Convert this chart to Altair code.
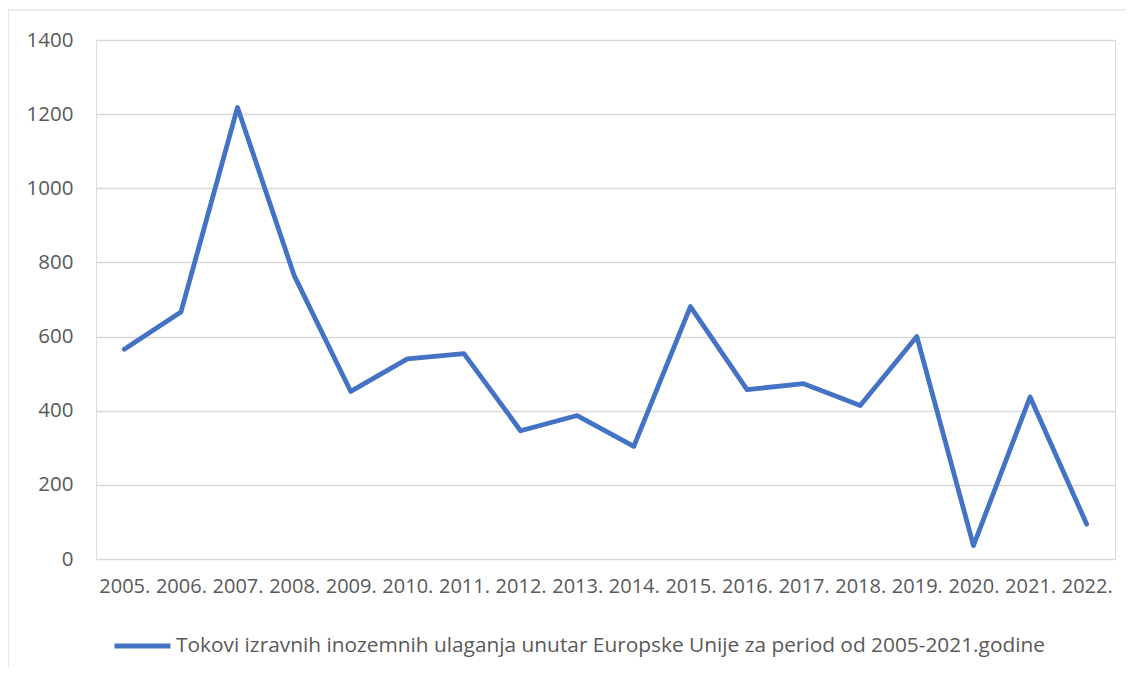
import altair as alt
import pandas as pd

years = ["2005.", "2006.", "2007.", "2008.", "2009.", "2010.", "2011.", "2012.", "2013.",
         "2014.", "2015.", "2016.", "2017.", "2018.", "2019.", "2020.", "2021.", "2022."]
values = [566, 666, 1218, 765, 452, 540, 554, 346, 387,
          304, 681, 457, 473, 414, 600, 36, 437, 94]
series_name = "Tokovi izravnih inozemnih ulaganja unutar Europske Unije za period od 2005-2021.godine"
y_ticks = [0, 200, 400, 600, 800, 1000, 1200, 1400]

df = pd.DataFrame({"year": years, "value": values, "series": [series_name] * len(years)})

W, H = 1019, 519
FONT = "Open Sans"
TXT = "#595959"

line = alt.Chart(df).mark_line(
    strokeWidth=4.8, strokeCap="round", strokeJoin="round"
).encode(
    x=alt.X("year:N", sort=years,
            scale=alt.Scale(type="point", padding=0.5),
            axis=alt.Axis(title=None, labelAngle=0, labelFontSize=20, labelColor=TXT,
                          labelFont=FONT, labelPadding=17, ticks=False, domain=False,
                          grid=False)),
    y=alt.Y("value:Q", scale=alt.Scale(domain=[0, 1400], nice=False),
            axis=alt.Axis(title=None, values=y_ticks, format="d", labelFontSize=20.5,
                          labelColor=TXT, labelFont=FONT, labelPadding=23, ticks=False,
                          domain=False, grid=True, gridColor="#D9D9D9", gridWidth=1.3)),
    color=alt.Color("series:N", scale=alt.Scale(range=["#4472C4"]),
                    legend=alt.Legend(title=None, orient="none", legendX=16, legendY=575.5,
                                      symbolType="stroke", symbolSize=3136,
                                      symbolStrokeWidth=5, labelFontSize=20.85,
                                      labelFont=FONT, labelColor=TXT, labelOffset=3,
                                      padding=0, labelLimit=1200))
)

border = alt.Chart(pd.DataFrame({"a": [0]})).mark_rect(
    filled=False, stroke="#D9D9D9", strokeWidth=1.2
).encode(
    x=alt.value(-88), x2=alt.value(W + 60), y=alt.value(-30), y2=alt.value(H + 200)
)

chart = alt.layer(border, line).properties(
    width=W, height=H,
    autosize=alt.AutoSizeParams(type="none"),
    padding={"left": 88, "top": 32, "right": 11, "bottom": 109},
).configure_view(stroke=None).configure(background="white")

chart.save("out.html", embed_options={"renderer": "svg", "actions": False})
